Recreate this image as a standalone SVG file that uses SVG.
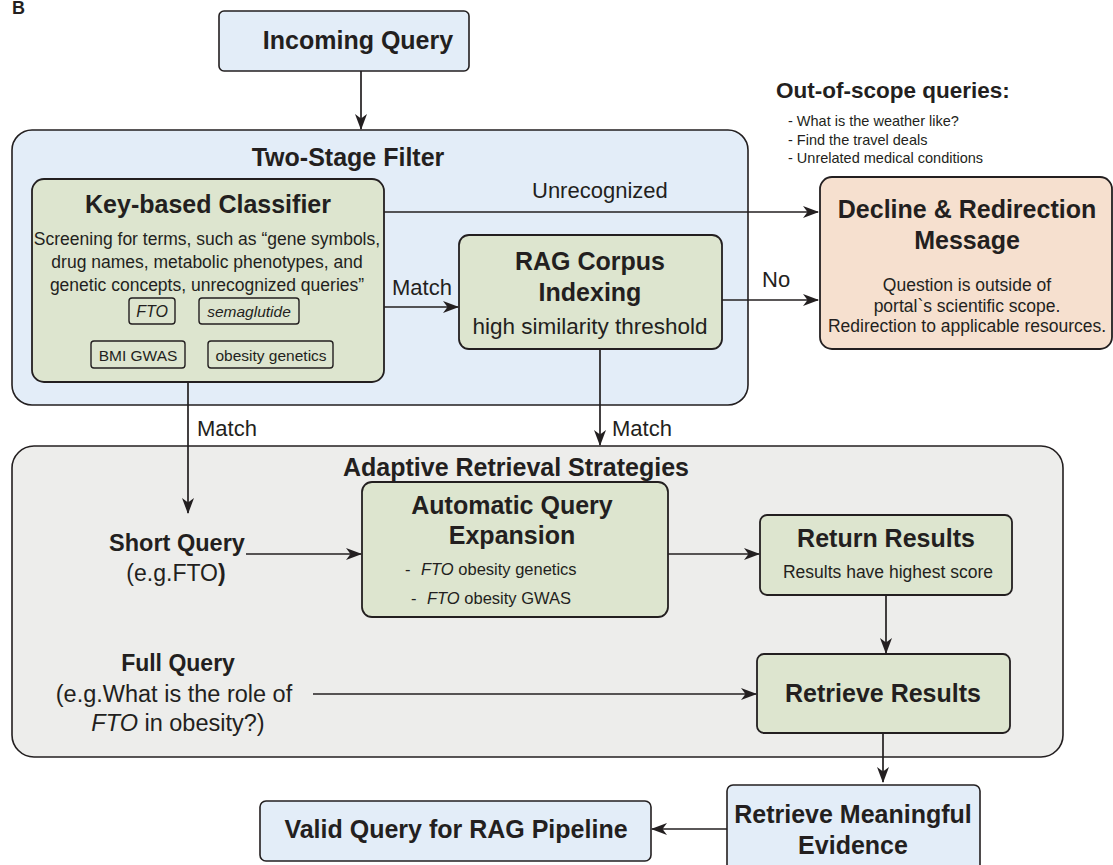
<svg xmlns="http://www.w3.org/2000/svg" width="1113" height="865" viewBox="0 0 1113 865">
<defs>
<style>
text{font-family:"Liberation Sans",Arial,sans-serif;fill:#231f20}
.t{font-weight:700;font-size:25px;text-anchor:middle}
.c{text-anchor:middle}
.lbl{font-size:22px}
.blue{fill:#e3edf8;stroke:#231f20;stroke-width:1.6}
.green{fill:#dde5cf;stroke:#231f20;stroke-width:1.8}
.peach{fill:#f6e0cf;stroke:#231f20;stroke-width:1.8}
.gray{fill:#ededeb;stroke:#231f20;stroke-width:1.6}
.tag{fill:none;stroke:#231f20;stroke-width:1.4}
.ln{fill:none;stroke:#231f20;stroke-width:1.7}
</style>
<marker id="ah" viewBox="0 0 16 12" refX="15" refY="6" markerWidth="16" markerHeight="12" markerUnits="userSpaceOnUse" orient="auto">
<path d="M0,0 L16,6 L0,12 L4.5,6 z" fill="#231f20"/>
</marker>
</defs>
<rect width="1113" height="865" fill="#ffffff"/>
<text x="12" y="14" style="font-weight:700;font-size:18px">B</text>

<g id="two-stage-filter">
<rect class="blue" x="12" y="130" width="736" height="275" rx="20"/>
<text class="t" x="348" y="166">Two-Stage Filter</text>
</g>

<g id="adaptive-retrieval">
<rect class="gray" x="12" y="446" width="1051" height="311" rx="22"/>
<text class="t" x="516" y="476">Adaptive Retrieval Strategies</text>
</g>

<g id="incoming-query">
<rect class="blue" x="219" y="11" width="250" height="60" rx="5"/>
<text class="t" x="358" y="49">Incoming Query</text>
</g>

<g id="out-of-scope">
<text x="776" y="98" style="font-weight:700;font-size:22.5px">Out-of-scope queries:</text>
<text x="788" y="126" style="font-size:14.5px">- What is the weather like?</text>
<text x="788" y="145" style="font-size:14.5px">- Find the travel deals</text>
<text x="788" y="163" style="font-size:14.5px">- Unrelated medical conditions</text>
</g>

<g id="key-based-classifier">
<rect class="green" x="32" y="179" width="352" height="203" rx="12"/>
<text class="t" x="208" y="213">Key-based Classifier</text>
<text class="c" x="207" y="245" style="font-size:17.5px">Screening for terms, such as “gene symbols,</text>
<text class="c" x="207" y="268" style="font-size:17.5px">drug names, metabolic phenotypes, and</text>
<text class="c" x="207" y="291" style="font-size:17.5px">genetic concepts, unrecognized queries”</text>
<rect class="tag" x="129" y="298" width="46" height="26" rx="3"/>
<text class="c" x="152" y="317" style="font-size:16px;font-style:italic">FTO</text>
<rect class="tag" x="199" y="298" width="100" height="26" rx="3"/>
<text class="c" x="249" y="317" style="font-size:15.5px;font-style:italic">semaglutide</text>
<rect class="tag" x="91" y="341" width="94" height="27" rx="3"/>
<text class="c" x="138" y="361" style="font-size:15.5px">BMI GWAS</text>
<rect class="tag" x="208" y="341" width="125" height="27" rx="3"/>
<text class="c" x="271" y="361" style="font-size:15.5px">obesity genetics</text>
</g>

<g id="rag-corpus-indexing">
<rect class="green" x="459" y="235" width="263" height="114" rx="10"/>
<text class="t" x="590" y="270">RAG Corpus</text>
<text class="t" x="590" y="301">Indexing</text>
<text class="c" x="590" y="334" style="font-size:22.5px">high similarity threshold</text>
</g>

<g id="decline-redirection">
<rect class="peach" x="820" y="177" width="292" height="172" rx="12"/>
<text class="t" x="967" y="218">Decline &amp; Redirection</text>
<text class="t" x="967" y="249">Message</text>
<text class="c" x="967" y="291" style="font-size:17.5px">Question is outside of</text>
<text class="c" x="967" y="312" style="font-size:17.5px">portal`s scientific scope.</text>
<text class="c" x="967" y="332" style="font-size:17.5px">Redirection to applicable resources.</text>
</g>

<g id="short-query">
<text class="c" x="177" y="551" style="font-weight:700;font-size:23.5px">Short Query</text>
<text class="c" x="176" y="581" style="font-size:23px">(e.g.FTO<tspan style="font-weight:700">)</tspan></text>
</g>

<g id="full-query">
<text class="c" x="178" y="671" style="font-weight:700;font-size:23px">Full Query</text>
<text class="c" x="174" y="702" style="font-size:23.5px">(e.g.What is the role of</text>
<text class="c" x="178" y="731" style="font-size:23.5px"><tspan style="font-style:italic">FTO</tspan> in obesity?)</text>
</g>

<g id="automatic-query-expansion">
<rect class="green" x="362" y="482" width="306" height="135" rx="10"/>
<text class="t" x="512" y="514">Automatic Query</text>
<text class="t" x="512" y="544">Expansion</text>
<text x="405" y="575" style="font-size:16.5px">-</text>
<text x="421" y="575" style="font-size:16.5px"><tspan style="font-style:italic">FTO</tspan> obesity genetics</text>
<text x="411" y="604" style="font-size:16.5px">-</text>
<text x="427" y="604" style="font-size:16.5px"><tspan style="font-style:italic">FTO</tspan> obesity GWAS</text>
</g>

<g id="return-results">
<rect class="green" x="760" y="515" width="252" height="80" rx="7"/>
<text class="t" x="886" y="547">Return Results</text>
<text class="c" x="888" y="578" style="font-size:17.5px">Results have highest score</text>
</g>

<g id="retrieve-results">
<rect class="green" x="757" y="654" width="253" height="79" rx="7"/>
<text class="t" x="883" y="702">Retrieve Results</text>
</g>

<g id="retrieve-meaningful-evidence">
<rect class="blue" x="727" y="785" width="253" height="90" rx="6"/>
<text class="t" x="853" y="823">Retrieve Meaningful</text>
<text class="t" x="853" y="854">Evidence</text>
</g>

<g id="valid-query">
<rect class="blue" x="260" y="801" width="391" height="60" rx="6"/>
<text class="t" x="456" y="838">Valid Query for RAG Pipeline</text>
</g>

<g id="connectors">
<path class="ln" d="M361,71 V129" marker-end="url(#ah)"/>
<path class="ln" d="M384,212 H818" marker-end="url(#ah)"/>
<text class="lbl" x="532" y="198">Unrecognized</text>
<path class="ln" d="M384,307 H458" marker-end="url(#ah)"/>
<text class="lbl" x="392" y="295">Match</text>
<path class="ln" d="M722,300 H818" marker-end="url(#ah)"/>
<text class="lbl" x="762" y="287">No</text>
<path class="ln" d="M188,382 V513" marker-end="url(#ah)"/>
<text class="lbl" x="197" y="436">Match</text>
<path class="ln" d="M600,349 V445" marker-end="url(#ah)"/>
<text class="lbl" x="612" y="436">Match</text>
<path class="ln" d="M246,554 H361" marker-end="url(#ah)"/>
<path class="ln" d="M668,554 H759" marker-end="url(#ah)"/>
<path class="ln" d="M886,595 V653" marker-end="url(#ah)"/>
<path class="ln" d="M313,694 H756" marker-end="url(#ah)"/>
<path class="ln" d="M883,733 V782" marker-end="url(#ah)"/>
<path class="ln" d="M727,829 H652" marker-end="url(#ah)"/>
</g>
</svg>
